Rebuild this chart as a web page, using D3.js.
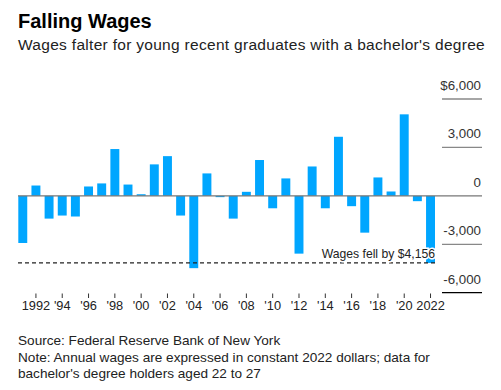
<!DOCTYPE html>
<html><head><meta charset="utf-8">
<script src="https://cdn.jsdelivr.net/npm/d3@7"></script>
<style>
html,body{margin:0;padding:0;background:#fff;}
svg{display:block;font-family:"Liberation Sans",Arial,Helvetica,sans-serif;}
</style></head>
<body>
<script>
const years = d3.range(1991, 2023);
const values = [-2920, 640, -1410, -1220, -1280, 580, 770, 2900, 700, 100,
  1950, 2460, -1220, -4480, 1390, -80, -1410, 250, 2220, -770,
  1080, -3580, 1820, -770, 3660, -640, -2280, 1140, 270, 5050,
  -330, -4156];
const yTicks = [6000, 3000, 0, -3000, -6000];
const xTickYears = [1992,1994,1996,1998,2000,2002,2004,2006,2008,2010,2012,2014,2016,2018,2020,2022];
const annotationValue = -4156;
const annotationText = "Wages fell by $4,156";
const title = "Falling Wages";
const subtitle = "Wages falter for young recent graduates with a bachelor's degree";
const notes = ["Source: Federal Reserve Bank of New York",
  "Note: Annual wages are expressed in constant 2022 dollars; data for",
  "bachelor's degree holders aged 22 to 27"];

const W = 501, H = 390;
const svg = d3.select("body").append("svg").attr("width", W).attr("height", H);

svg.append("text").attr("x", 18).attr("y", 27.5).attr("font-size", 20).attr("font-weight", "bold")
  .attr("fill", "#000").text(title);
svg.append("text").attr("x", 18).attr("y", 49.5).attr("font-size", 15.5).attr("letter-spacing", 0.3)
  .attr("fill", "#222").text(subtitle);

const x = d3.scaleBand().domain(years).range([18.3, 435]).paddingInner(0.32).paddingOuter(0);
const y = d3.scaleLinear().domain([-6000, 6000]).range([292.7, 99]);

const gridX0 = 442, gridX1 = 482;
yTicks.forEach(t => {
  if (t !== 0) {
    svg.append("line").attr("x1", gridX0).attr("x2", gridX1).attr("y1", y(t)).attr("y2", y(t))
      .attr("stroke", t === -6000 ? "#000" : "#888").attr("stroke-width", 1.3);
  }
  svg.append("text").attr("x", 481).attr("y", y(t) - 9).attr("text-anchor", "end")
    .attr("font-size", 13.3).attr("fill", "#333")
    .text(t === 6000 ? "$6,000" : d3.format(",")(t).replace("−", "-"));
});

svg.append("g").selectAll("rect").data(years).join("rect")
  .attr("x", d => x(d))
  .attr("width", x.bandwidth())
  .attr("y", (d, i) => y(Math.max(0, values[i])))
  .attr("height", (d, i) => Math.abs(y(values[i]) - y(0)))
  .attr("fill", "#00a6ff");

svg.append("line").attr("x1", 18).attr("x2", gridX1).attr("y1", y(0)).attr("y2", y(0))
  .attr("stroke", "#777").attr("stroke-width", 1.3);

svg.append("line").attr("x1", 18).attr("x2", 435).attr("y1", y(annotationValue)).attr("y2", y(annotationValue))
  .attr("stroke", "#222").attr("stroke-width", 1.3).attr("stroke-dasharray", "4,3");
svg.append("text").attr("x", 435).attr("y", y(annotationValue) - 5).attr("text-anchor", "end")
  .attr("font-size", 12.2).attr("fill", "#222")
  .attr("stroke", "#fff").attr("stroke-width", 3).attr("paint-order", "stroke")
  .text(annotationText);

const xg = svg.append("g");
xTickYears.forEach(yr => {
  const cx = x(yr) + x.bandwidth() / 2;
  xg.append("line").attr("x1", cx).attr("x2", cx).attr("y1", 293.5).attr("y2", 298)
    .attr("stroke", "#333").attr("stroke-width", 1);
  const lbl = (yr === 1992 || yr === 2022) ? String(yr) : "'" + String(yr).slice(2);
  xg.append("text").attr("x", cx).attr("y", 310).attr("text-anchor", "middle")
    .attr("font-size", 12.8).attr("fill", "#222").text(lbl);
});

notes.forEach((n, i) => {
  svg.append("text").attr("x", 18).attr("y", 345 + i * 16.5).attr("font-size", 13.6)
    .attr("fill", "#222").text(n);
});
</script>
</body></html>
